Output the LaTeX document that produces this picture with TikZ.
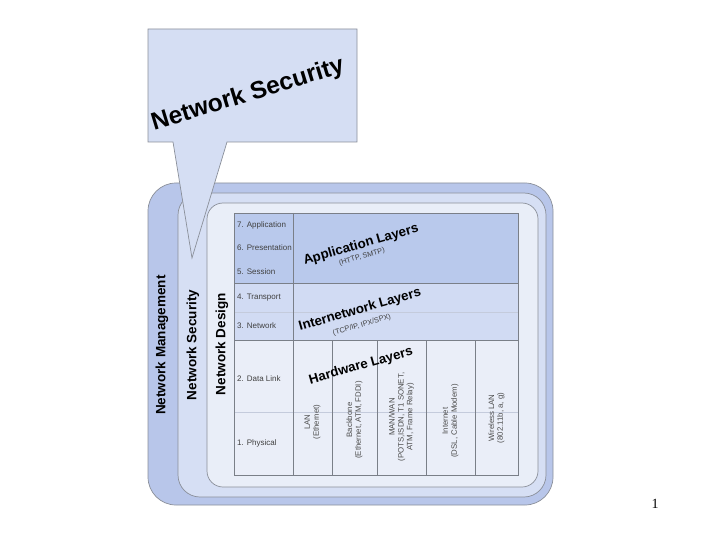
\documentclass[tikz,border=0pt]{standalone}
\usepackage{fontspec}
\setmainfont{Liberation Sans}
\newfontfamily\pagenumfont{Liberation Serif}
\definecolor{mgmtcol}{HTML}{B8C6EA}
\definecolor{seccol}{HTML}{D6DFF4}
\definecolor{descol}{HTML}{E9EEF8}
\definecolor{appcol}{HTML}{B9C9EC}
\definecolor{inetcol}{HTML}{D1DBF3}
\definecolor{hwcol}{HTML}{EAEEF8}
\definecolor{callcol}{HTML}{D5DEF3}
\definecolor{edgecol}{HTML}{8A8F99}
\definecolor{gridcol}{HTML}{7A7F88}
\definecolor{faintcol}{HTML}{C4CBDC}
\tikzset{
  layerbox/.style={draw=edgecol, line width=0.7pt},
  rowlab/.style={font=\fontsize{8}{9}\selectfont, text=black!75, anchor=west, inner sep=0pt},
  vlab/.style={font=\bfseries\fontsize{13.5}{15}\selectfont, rotate=90, inner sep=0pt},
  hwlab/.style={font=\fontsize{7.8}{8.8}\selectfont, align=center, rotate=90, text=black!70, inner sep=0pt},
  biglab/.style={font=\bfseries\fontsize{13.3}{15}\selectfont, rotate=16, inner sep=0pt},
  sublab/.style={font=\fontsize{7.3}{8}\selectfont, rotate=16, text=black!75, inner sep=0pt},
  gridline/.style={draw=gridcol, line width=0.8pt},
  faintline/.style={draw=faintcol, line width=0.7pt}
}
\begin{document}
\begin{tikzpicture}[x=1pt,y=-1pt]
\useasboundingbox (0,0) rectangle (720,540);
% nested layers
\draw[layerbox, fill=mgmtcol, rounded corners=28] (148,183) rectangle (553,505);
\draw[layerbox, fill=seccol, rounded corners=22] (178,193) rectangle (546,497);
\draw[layerbox, fill=descol, rounded corners=16] (207,203) rectangle (538,487);
% table bands
\fill[appcol] (234,213) rectangle (518,283);
\fill[inetcol] (234,283) rectangle (518,340);
\fill[hwcol] (234,340) rectangle (518,475);
\draw[faintline] (234,312) -- (518,312);
\draw[faintline] (234,412) -- (518,412);
\draw[gridline] (234,283) -- (518,283);
\draw[gridline] (234,340) -- (518,340);
\draw[gridline] (293,213) -- (293,475);
\foreach \xx in {332,377,426,475} \draw[gridline] (\xx,340) -- (\xx,475);
\draw[gridline] (234,213) rectangle (518,475);
% row labels
\node[rowlab] (r7) at (237,225) {7. Application};
\node[rowlab] (r6) at (237,248) {6. Presentation};
\node[rowlab] (r5) at (237,272) {5. Session};
\node[rowlab] (r4) at (237,298) {4. Transport};
\node[rowlab] (r3) at (237,326) {3. Network};
\node[rowlab] (r2) at (237,379) {2. Data Link};
\node[rowlab] (r1) at (237,443) {1. Physical};
% hardware columns
\node[hwlab] (lan) at (312.5,422) {LAN\\(Ethernet)};
\node[hwlab] (bb) at (354.5,420) {Backbone\\(Ethernet, ATM, FDDI)};
\node[hwlab] (man) at (401.5,417) {MAN/WAN\\(POTS,ISDN, T1 SONET,\\ATM, Frame Relay)};
\node[hwlab] (inet) at (450.5,421) {Internet\\(DSL, Cable Modem)};
\node[hwlab] (wlan) at (496.5,418) {Wireless LAN\\(802.11b, a, g)};
% band titles
\node[biglab] (appt) at (361,245) {Application Layers};
\node[sublab] (apps) at (362,257) {(HTTP, SMTP)};
\node[biglab] (inett) at (360,310) {Internetwork Layers};
\node[sublab] (inets) at (362,325) {(TCP/IP, IPX/SPX)};
\node[biglab] (hwt) at (361,366) {Hardware Layers};
% vertical layer names
\node[vlab] (mgmt) at (162,345) {Network Management};
\node[vlab] (sec) at (193,345) {Network Security};
\node[vlab] (des) at (222,344) {Network Design};
% callout
\draw[draw=edgecol, line width=0.7pt, fill=callcol, line join=miter]
  (148,29) -- (357,29) -- (357,142) -- (227,142) -- (192,258) -- (173,142) -- (148,142) -- cycle;
\node[font=\bfseries\fontsize{24.5}{28}\selectfont, rotate=17, inner sep=0pt] (callt) at (248,95) {Network Security};
% page number
\node[font=\pagenumfont\fontsize{14}{16}\selectfont, inner sep=0pt] (pnum) at (655,504) {1};
\end{tikzpicture}
\end{document}
